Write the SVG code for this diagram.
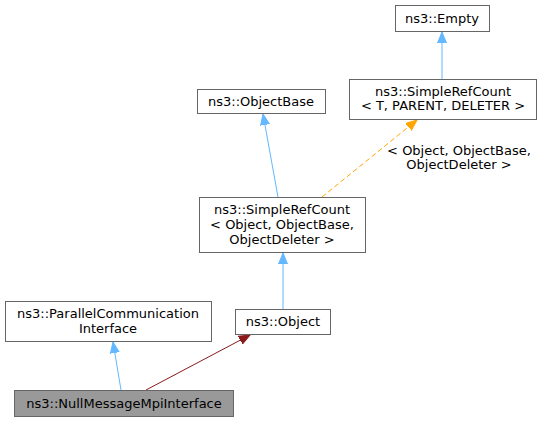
<svg xmlns="http://www.w3.org/2000/svg" width="541" height="421" viewBox="0 0 541 421">
<style>
.n rect{fill:#fff;stroke:#666;stroke-width:1}
.n.h rect{fill:#999}
text{font-family:"DejaVu Sans","Liberation Sans",sans-serif;font-size:13px;fill:#000;text-anchor:middle}
.e{fill:none;stroke-width:1}
.b{stroke:#63b8ff}
.o{stroke:#ffa500;stroke-dasharray:5,3}
.r{stroke:#8b1a1a}
</style>
<defs>
<marker id="ab" markerWidth="12" markerHeight="10" refX="11" refY="5" orient="auto" markerUnits="userSpaceOnUse"><path d="M0,0.5 L11,5 L0,9.5 Z" fill="#63b8ff" stroke="#63b8ff"/></marker>
<marker id="ao" markerWidth="12" markerHeight="10" refX="11" refY="5" orient="auto" markerUnits="userSpaceOnUse"><path d="M0,0.5 L11,5 L0,9.5 Z" fill="#ffa500" stroke="#ffa500"/></marker>
<marker id="ar" markerWidth="12" markerHeight="10" refX="11" refY="5" orient="auto" markerUnits="userSpaceOnUse"><path d="M0,0.5 L11,5 L0,9.5 Z" fill="#8b1a1a" stroke="#8b1a1a"/></marker>
</defs>
<g id="connectors">
<path class="e b" d="M442,79 L442,32" marker-end="url(#ab)"/>
<path class="e b" d="M278,197 L263,114" marker-end="url(#ab)"/>
<path class="e o" d="M322,197 L417,120" marker-end="url(#ao)"/>
<text x="459" y="155"><tspan x="459">&lt; Object, ObjectBase,</tspan><tspan x="459" dy="13.5">ObjectDeleter &gt;</tspan></text>
<path class="e b" d="M283,309 L283,253" marker-end="url(#ab)"/>
<path class="e b" d="M121,390 L113,342" marker-end="url(#ab)"/>
<path class="e r" d="M146,390 L250,335" marker-end="url(#ar)"/>
</g>
<g id="empty" class="n"><rect x="395.5" y="5.5" width="94" height="26"/><text x="442" y="23">ns3::Empty</text></g>
<g id="srcT" class="n"><rect x="349.5" y="79.5" width="187" height="40"/><text x="443" y="96">ns3::SimpleRefCount</text><text x="443" y="110">&lt; T, PARENT, DELETER &gt;</text></g>
<g id="objectbase" class="n"><rect x="197.5" y="89.5" width="128" height="24"/><text x="261" y="106">ns3::ObjectBase</text></g>
<g id="srcObj" class="n"><rect x="199.5" y="197.5" width="166" height="55"/><text x="282" y="214">ns3::SimpleRefCount</text><text x="282" y="229">&lt; Object, ObjectBase,</text><text x="282" y="244">ObjectDeleter &gt;</text></g>
<g id="pci" class="n"><rect x="5.5" y="301.5" width="206" height="40"/><text x="108" y="318">ns3::ParallelCommunication</text><text x="108" y="333">Interface</text></g>
<g id="object" class="n"><rect x="235.5" y="309.5" width="95" height="25"/><text x="283" y="326">ns3::Object</text></g>
<g id="nmmi" class="n h"><rect x="14.5" y="390.5" width="219" height="26"/><text x="124" y="408">ns3::NullMessageMpiInterface</text></g>
</svg>
